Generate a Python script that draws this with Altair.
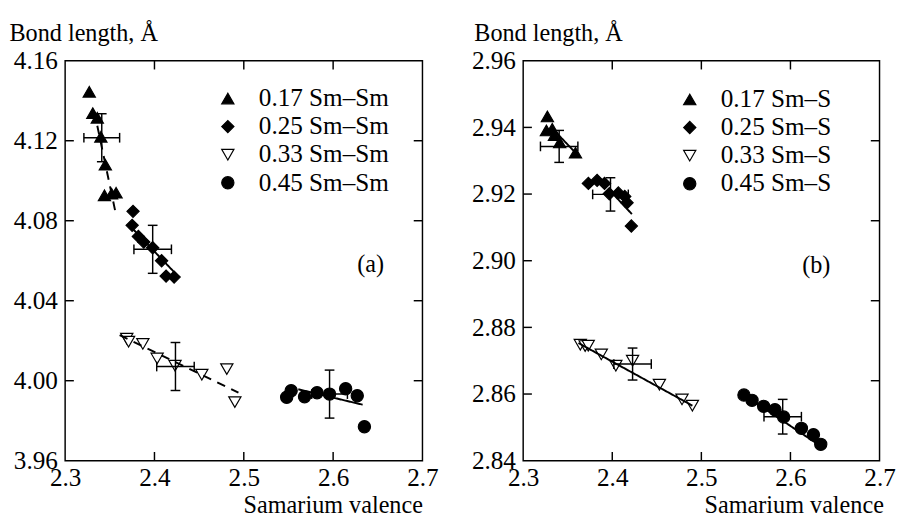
import altair as alt
import pandas as pd

FONT = "Liberation Serif"

# ---------------- Panel (a): Sm–Sm ----------------
A_LABELS = ["0.17 Sm–Sm", "0.25 Sm–Sm", "0.33 Sm–Sm", "0.45 Sm–Sm"]
a017_x = [2.327, 2.331, 2.336, 2.340, 2.345, 2.344, 2.352, 2.357]
a017_y = [4.1445, 4.1338, 4.1315, 4.1220, 4.1080, 4.0927, 4.0935, 4.0940]
a025_x = [2.376, 2.375, 2.382, 2.388, 2.398, 2.408, 2.413, 2.422]
a025_y = [4.0847, 4.0777, 4.0721, 4.0693, 4.0665, 4.0600, 4.0523, 4.0518]
a033_x = [2.369, 2.371, 2.387, 2.403, 2.423, 2.453, 2.481, 2.490]
a033_y = [4.0210, 4.0195, 4.0184, 4.0111, 4.0075, 4.0030, 4.0058, 3.9893]
a045_x = [2.548, 2.553, 2.568, 2.582, 2.596, 2.614, 2.627, 2.635]
a045_y = [3.9917, 3.9950, 3.9920, 3.9940, 3.9933, 3.9960, 3.9925, 3.9770]
a_fit_x = [[2.336, 2.356], [2.376, 2.424], [2.361, 2.494], [2.561, 2.633]]
a_fit_y = [[4.1275, 4.0850], [4.0758, 4.0534], [4.0228, 3.9940], [3.9957, 3.9880]]
a_fit_style = ["dashed", "solid", "dashed", "solid"]
a_err_x = [2.341, 2.398, 2.4235, 2.596]
a_err_y = [4.1215, 4.0657, 4.0071, 3.9933]
a_err_dx = [0.020, 0.021, 0.021, 0.020]
a_err_dy = [0.012, 0.012, 0.012, 0.012]
a_yvals = [3.96, 4.00, 4.04, 4.08, 4.12, 4.16]
a_ticks_left = [4.00, 4.04, 4.08, 4.12]
a_ticks_right = [4.00, 4.04, 4.08, 4.12]
a_domain = [3.96, 4.16]

# ---------------- Panel (b): Sm–S ----------------
B_LABELS = ["0.17 Sm–S", "0.25 Sm–S", "0.33 Sm–S", "0.45 Sm–S"]
b017_x = [2.3272, 2.3261, 2.3326, 2.3351, 2.3410, 2.3587]
b017_y = [2.9433, 2.9391, 2.9396, 2.9377, 2.9355, 2.9324]
b025_x = [2.3732, 2.3830, 2.3913, 2.3967, 2.4068, 2.4140, 2.4166, 2.4214]
b025_y = [2.9232, 2.9241, 2.9232, 2.9201, 2.9203, 2.9193, 2.9174, 2.9104]
b033_x = [2.3641, 2.3696, 2.3730, 2.3877, 2.4040, 2.4228, 2.4529, 2.4783, 2.4899]
b033_y = [2.8748, 2.8744, 2.8745, 2.8719, 2.8685, 2.8700, 2.8628, 2.8584, 2.8565]
b045_x = [2.5478, 2.5569, 2.5699, 2.5826, 2.5924, 2.6123, 2.6258, 2.6340]
b045_y = [2.8597, 2.8581, 2.8563, 2.8553, 2.8531, 2.8497, 2.8478, 2.8449]
b_fit_x = [[2.333, 2.3623], [2.400, 2.422], [2.362, 2.490], [2.548, 2.636]]
b_fit_y = [[2.9396, 2.9314], [2.9203, 2.9140], [2.8753, 2.8565], [2.8597, 2.8440]]
b_fit_style = ["solid", "solid", "solid", "solid"]
b_err_x = [2.3404, 2.398, 2.4228, 2.5913]
b_err_y = [2.9343, 2.9199, 2.8690, 2.8532]
b_err_dx = [0.021, 0.020, 0.021, 0.021]
b_err_dy = [0.0048, 0.0050, 0.0048, 0.0052]
b_yvals = [2.84, 2.86, 2.88, 2.90, 2.92, 2.94, 2.96]
b_ticks_left = [2.86, 2.88, 2.90, 2.92, 2.94]
b_ticks_right = [2.864, 2.888, 2.912, 2.936]
b_domain = [2.84, 2.96]

X_VALS = [2.3, 2.4, 2.5, 2.6, 2.7]
X_TICKS = [2.4, 2.5, 2.6]
X_DOMAIN = [2.3, 2.7]

SHAPES = ["triangle-up", "diamond", "triangle-down", "circle"]
FILLS = ["black", "black", "white", "black"]
STROKES = ["black", "black", "black", "black"]


def panel(labels, xs_list, ys_list, fit_x, fit_y, fit_style, ex, ey, edx, edy,
          ydom, yvals, tl, tr, W, H, note, note_x, note_y, leg_x, leg_y,
          lab_off, ytitle_x, xtitle_x):
    rows = []
    for lab, xs, ys in zip(labels, xs_list, ys_list):
        for x, y in zip(xs, ys):
            rows.append({"x": x, "y": y, "s": lab})
    pts = pd.DataFrame(rows)

    frows = []
    for i, (fx, fy, st) in enumerate(zip(fit_x, fit_y, fit_style)):
        for x, y in zip(fx, fy):
            frows.append({"x": x, "y": y, "g": i, "d": st})
    fits = pd.DataFrame(frows)

    err = pd.DataFrame({
        "x": ex, "y": ey,
        "xlo": [a - b for a, b in zip(ex, edx)], "xhi": [a + b for a, b in zip(ex, edx)],
        "ylo": [a - b for a, b in zip(ey, edy)], "yhi": [a + b for a, b in zip(ey, edy)],
    })

    xs = alt.Scale(domain=X_DOMAIN, nice=False, zero=False)
    ys = alt.Scale(domain=ydom, nice=False, zero=False)
    common = dict(labelFont=FONT, titleFont=FONT, labelFontSize=26, titleFontSize=25,
                  labelColor="black", titleColor="black", titleFontWeight="normal",
                  grid=False, domain=False, ticks=False, tickSize=0,
                  labelFlush=False, labelOverlap=False)
    xax = alt.Axis(values=X_VALS, format=".1f", title="Samarium valence",
                   titleX=xtitle_x, titleY=54, titleAlign="right", titleAnchor="end",
                   titleBaseline="alphabetic", labelPadding=5, **common)
    yax = alt.Axis(values=yvals, format=".2f", title="Bond length, Å",
                   titleAngle=0, titleX=ytitle_x, titleY=-21, titleAlign="left",
                   titleBaseline="alphabetic", labelPadding=8, **common)

    def X(f):
        return alt.X(f, type="quantitative", scale=xs, axis=xax)

    def Y(f):
        return alt.Y(f, type="quantitative", scale=ys, axis=yax)

    leg = alt.Legend(orient="none", legendX=leg_x, legendY=leg_y, title=None,
                     labelFont=FONT, labelFontSize=26, labelColor="black",
                     symbolSize=160, labelOffset=lab_off, rowPadding=3,
                     symbolStrokeColor="black", symbolStrokeWidth=1.2,
                     padding=0, labelLimit=400)

    points = alt.Chart(pts).mark_point(filled=True, strokeWidth=1.2,
                                       opacity=1, size=160).encode(
        x=X("x"), y=Y("y"),
        shape=alt.Shape("s:N", scale=alt.Scale(domain=labels, range=SHAPES), legend=leg),
        fill=alt.Fill("s:N", scale=alt.Scale(domain=labels, range=FILLS), legend=leg),
        stroke=alt.Stroke("s:N", scale=alt.Scale(domain=labels, range=STROKES), legend=leg),
    )

    lines = alt.Chart(fits).mark_line(color="black", strokeWidth=2).encode(
        x=X("x"), y=Y("y"), detail="g:N",
        strokeDash=alt.StrokeDash("d:N", scale=alt.Scale(domain=["solid", "dashed"],
                                                         range=[[1, 0], [9, 7]]),
                                  legend=None),
    )

    vbar = alt.Chart(err).mark_rule(color="black", strokeWidth=1.5).encode(
        x=X("x"), y=Y("ylo"), y2="yhi")
    hbar = alt.Chart(err).mark_rule(color="black", strokeWidth=1.5).encode(
        y=Y("y"), x=X("xlo"), x2="xhi")
    cap_lo = alt.Chart(err).mark_tick(color="black", orient="horizontal", size=10,
                                      thickness=1.5, opacity=1).encode(x=X("x"), y=Y("ylo"))
    cap_hi = alt.Chart(err).mark_tick(color="black", orient="horizontal", size=10,
                                      thickness=1.5, opacity=1).encode(x=X("x"), y=Y("yhi"))
    cap_l = alt.Chart(err).mark_tick(color="black", orient="vertical", size=10,
                                     thickness=1.5, opacity=1).encode(x=X("xlo"), y=Y("y"))
    cap_r = alt.Chart(err).mark_tick(color="black", orient="vertical", size=10,
                                     thickness=1.5, opacity=1).encode(x=X("xhi"), y=Y("y"))

    xt = pd.DataFrame({"v": X_TICKS})
    tb = alt.Chart(xt).mark_rule(color="black", strokeWidth=1.5).encode(
        x=X("v"), y=alt.value(H), y2=alt.value(H - 9))
    tt = alt.Chart(xt).mark_rule(color="black", strokeWidth=1.5).encode(
        x=X("v"), y=alt.value(0), y2=alt.value(9))
    tlft = alt.Chart(pd.DataFrame({"v": tl})).mark_rule(color="black", strokeWidth=1.5).encode(
        y=Y("v"), x=alt.value(0), x2=alt.value(9))
    trgt = alt.Chart(pd.DataFrame({"v": tr})).mark_rule(color="black", strokeWidth=1.5).encode(
        y=Y("v"), x=alt.value(W - 9), x2=alt.value(W))

    ann = alt.Chart(pd.DataFrame({"x": [note_x], "y": [note_y], "t": [note]})).mark_text(
        font=FONT, fontSize=25, color="black", align="center", baseline="middle").encode(
        x=X("x"), y=Y("y"), text="t:N")

    return alt.layer(points, lines, vbar, hbar, cap_lo, cap_hi, cap_l, cap_r,
                     tb, tt, tlft, trgt, ann).properties(width=W, height=H)


pa = panel(A_LABELS, [a017_x, a025_x, a033_x, a045_x], [a017_y, a025_y, a033_y, a045_y],
           a_fit_x, a_fit_y, a_fit_style, a_err_x, a_err_y, a_err_dx, a_err_dy,
           a_domain, a_yvals, a_ticks_left, a_ticks_right, 369, 413,
           "(a)", 2.642, 4.058, 155, 26, 19, -58, 369)
pb = panel(B_LABELS, [b017_x, b025_x, b033_x, b045_x], [b017_y, b025_y, b033_y, b045_y],
           b_fit_x, b_fit_y, b_fit_style, b_err_x, b_err_y, b_err_dx, b_err_dy,
           b_domain, b_yvals, b_ticks_left, b_ticks_right, 368, 413,
           "(b)", 2.629, 2.8985, 159, 27, 19, -51, 372)

chart = alt.hconcat(pa, pb, spacing=32).resolve_scale(
    x="independent", y="independent", shape="independent", fill="independent",
    stroke="independent", strokeDash="independent"
).resolve_legend(shape="independent", fill="independent", stroke="independent").configure_view(
    stroke="black", strokeWidth=1.5
).configure_axis(
    labelFont=FONT, titleFont=FONT
).configure_text(font=FONT).configure_legend(
    labelFont=FONT
).properties(
    padding={"left": 0, "top": 4, "right": 0, "bottom": 0},
    background="white"
)

chart.save("out.html", embed_options={"renderer": "svg", "actions": False})
